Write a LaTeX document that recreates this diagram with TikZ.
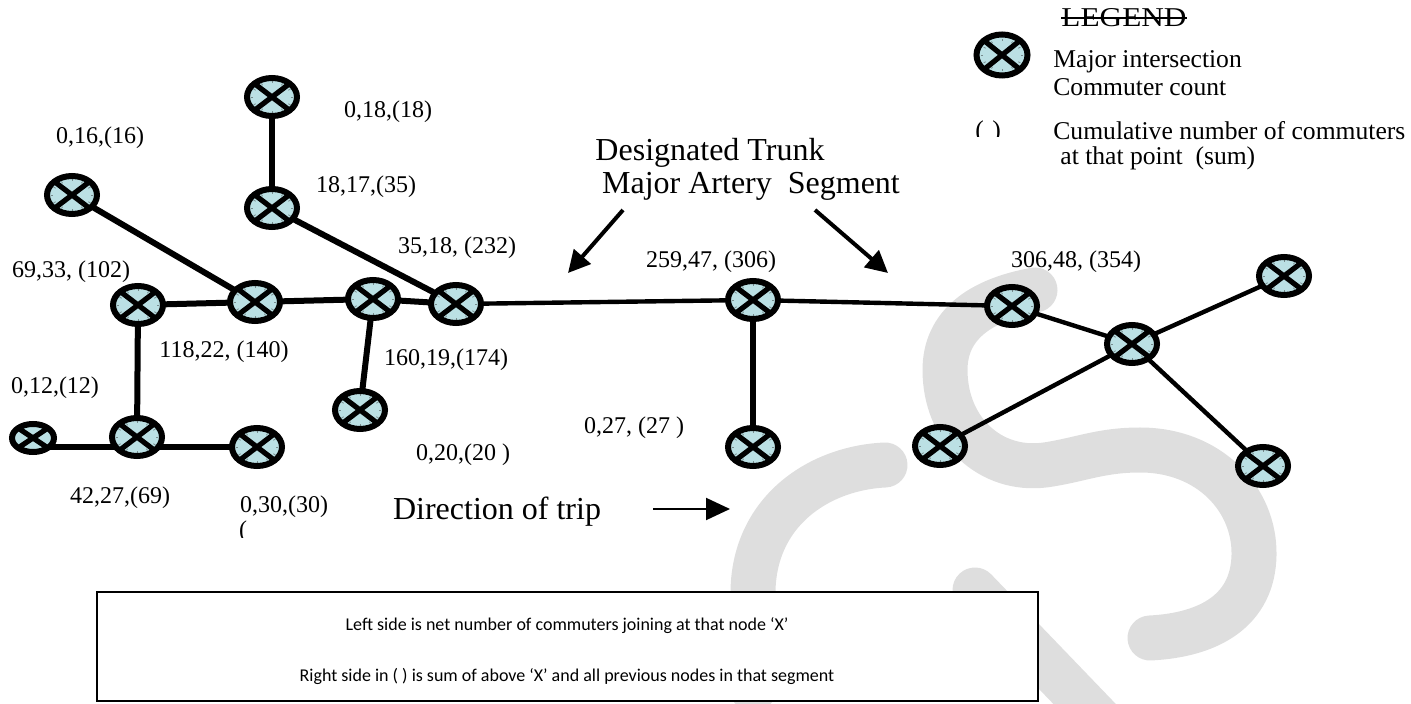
\documentclass[tikz,border=0pt]{standalone}
\usepackage{fontspec}
\setmainfont{Liberation Serif}
\newfontfamily\boxfont{Carlito}
\usetikzlibrary{shapes.geometric,arrows.meta}
\pgfdeclarelayer{wm}
\pgfdeclarelayer{edges}
\pgfsetlayers{wm,edges,main}
\definecolor{nodefill}{RGB}{187,224,228}
\definecolor{wmgray}{RGB}{222,222,222}
\definecolor{tickgray}{RGB}{120,140,142}
\tikzset{
  isect/.style={ellipse, draw=black, line width=3pt, fill=nodefill,
    minimum width=25pt, minimum height=19pt, inner sep=0pt,
    path picture={
      \foreach \a in {0,30,...,330}
        \draw[tickgray,line width=0.4pt]
          ([shift={(\a:10.6pt and 7.8pt)}]path picture bounding box.center) --
          ([shift={(\a:9.4pt and 6.8pt)}]path picture bounding box.center);
      \draw[black,line width=2.6pt]
        (path picture bounding box.north west) -- (path picture bounding box.south east)
        (path picture bounding box.north east) -- (path picture bounding box.south west);
    }},
  isectsmall/.style={isect, minimum width=21pt, minimum height=14pt},
  thickedge/.style={line width=3pt},
  thinedge/.style={line width=2.2pt},
  lbl/.style={font=\fontsize{12}{14}\selectfont, inner sep=0pt},
  title/.style={font=\fontsize{16}{19}\selectfont, inner sep=0pt},
  legtext/.style={font=\fontsize{12.8}{15}\selectfont, inner sep=0pt, anchor=west},
  boxtext/.style={font=\boxfont\fontsize{9}{11}\selectfont, inner sep=0pt},
  bigarrow/.style={line width=2pt, -{Triangle[length=11pt,width=11pt]}},
  dirarrow/.style={line width=1pt, -{Triangle[length=12pt,width=11pt]}},
  wm/.style={wmgray, line width=22.5pt, line cap=round}
}
\begin{document}
\begin{tikzpicture}[x=0.5pt,y=-0.5pt]
\useasboundingbox (0,0) rectangle (1411,704);

% watermark
\begin{pgfonlayer}{wm}
\draw[wm] (1035,290) .. controls (980,300) and (945,325) .. (945,370)
  .. controls (945,430) and (990,472) .. (1045,465)
  .. controls (1080,460) and (1100,450) .. (1140,450)
  .. controls (1210,450) and (1255,500) .. (1254,555)
  .. controls (1253,610) and (1210,635) .. (1150,638);
\draw[wm] (885,465) .. controls (820,468) and (755,510) .. (753,590) -- (753,690);
\draw[wm] (975,590) -- (1100,720);
\end{pgfonlayer}

% intersections
\node[isect] (top) at (272,97) {};
\node[isect] (b) at (272,208) {};
\node[isect] (n16) at (72,195) {};
\node[isect] (n102) at (138,305) {};
\node[isect] (n140) at (255,302) {};
\node[isect] (n174) at (373,299) {};
\node[isect] (n232) at (456,304) {};
\node[isect] (n306) at (753,300) {};
\node[isect] (n354) at (1012,306) {};
\node[isect] (hub) at (1132,344) {};
\node[isect] (ur) at (1284,276) {};
\node[isect] (ll) at (940,446) {};
\node[isect] (lr) at (1263,466) {};
\node[isect] (n27) at (753,447) {};
\node[isect] (n20) at (360,410) {};
\node[isect] (n69) at (137,437) {};
\node[isectsmall] (n12) at (33,438) {};
\node[isect] (n30) at (257,447) {};
\node[isect, minimum width=25.5pt, minimum height=20.5pt] (legnode) at (1002,55) {};

% connectors
\begin{pgfonlayer}{edges}
\draw[thickedge] (top.center) -- (b.center);
\draw[thickedge] (b.center) -- (n232.center);
\draw[thickedge] (n16.center) -- (n140.center);
\draw[thickedge] (n102.center) -- (n140.center);
\draw[thickedge] (n140.center) -- (n174.center);
\draw[thickedge] (n174.center) -- (n232.center);
\draw[thickedge] (n174.center) -- (n20.center);
\draw[thickedge] (n102.center) -- (n69.center);
\draw[thickedge] (n12.center |- n30.center) -- (n69.center |- n30.center);
\draw[thickedge] (n69.center |- n30.center) -- (n30.center);
\draw[thinedge] (n232.center) -- (n306.center);
\draw[line width=2.8pt] (n306.center) -- (n27.center);
\draw[thinedge] (n306.center) -- (n354.center);
\draw[thinedge] (n354.center) -- (hub.center);
\draw[thinedge] (hub.center) -- (ur.center);
\draw[thinedge] (hub.center) -- (ll.center);
\draw[thinedge] (hub.center) -- (lr.center);
\end{pgfonlayer}

% labels
\node[lbl] (l18) at (388,112) {0,18,(18)};
\node[lbl] (l16) at (100,138) {0,16,(16)};
\node[lbl] (l35) at (366,187) {18,17,(35)};
\node[lbl] (l232) at (457,248) {35,18, (232)};
\node[lbl] (l102) at (71,272) {69,33, (102)};
\node[lbl] (l140) at (224,352) {118,22, (140)};
\node[lbl] (l174) at (446,360) {160,19,(174)};
\node[lbl] (l12) at (55,388) {0,12,(12)};
\node[lbl] (l20) at (463,455) {0,20,(20 )};
\node[lbl] (l27) at (634,428) {0,27, (27 )};
\node[lbl] (l69) at (120,498) {42,27,(69)};
\node[lbl] (l30) at (284,507) {0,30,(30)};
\begin{scope}
\clip (230,520) rectangle (262,537);
\node[lbl] (lparen) at (243,532) {(};
\end{scope}
\node[lbl] (l306) at (711,262) {259,47, (306)};
\node[lbl] (l354) at (1076,262) {306,48, (354)};

% titles and arrows
\node[title] (dt) at (710,153) {Designated Trunk};
\node[title] (mas) at (751,186) {Major Artery~~Segment};
\coordinate (a1s) at (623,210);
\coordinate (a1e) at (568,273);
\coordinate (a2s) at (815,210);
\coordinate (a2e) at (888,273);
\draw[bigarrow] (a1s) -- (a1e);
\draw[bigarrow] (a2s) -- (a2e);
\node[title] (dir) at (497,512) {Direction of trip};
\coordinate (dA) at (653,509);
\coordinate (dB) at (730,509);
\draw[dirarrow] (dA) -- (dB);

% legend
\node[font=\fontsize{13.6}{16}\selectfont, inner sep=0pt] (legend) at (1124,18) {\scalebox{1.15}[1]{LEGEND}};
\draw[line width=0.8pt] (legend.west) -- (legend.east);
\node[legtext] (lg1) at (1053,62) {Major intersection};
\node[legtext] (lg2) at (1053,87) {Commuter count};
\begin{scope}
\clip (970,120) rectangle (1012,137);
\node[legtext] (lgp) at (975,132) {(\,\,)};
\end{scope}
\node[legtext] (lg3) at (1053,131) {Cumulative number of commuters};
\node[legtext] (lg4) at (1060,158) {at that point~~(sum)};

% note box
\node[draw, line width=0.75pt, fill=white, minimum width=470.5pt, minimum height=54.5pt, inner sep=0pt] (notebox) at (567.5,646.5) {};
\node[boxtext] (bt1) at (567,626) {Left side is net number of commuters joining at that node ‘X’};
\node[boxtext] (bt2) at (567,676) {Right side in ( ) is sum of above ‘X’ and all previous nodes in that segment};
\end{tikzpicture}
\end{document}
